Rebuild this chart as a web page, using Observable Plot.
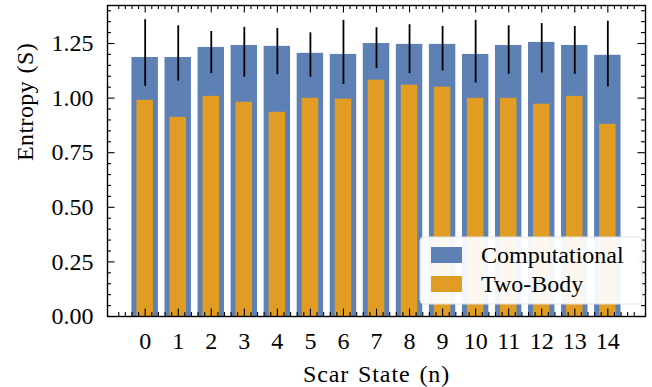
<!DOCTYPE html>
<html>
<head>
<meta charset="utf-8">
<script src="https://cdn.jsdelivr.net/npm/d3@7"></script>
<script src="https://cdn.jsdelivr.net/npm/@observablehq/plot@0.6"></script>
<style>
  html, body { margin: 0; padding: 0; background: white; }
</style>
</head>
<body>
<div id="chart"></div>
<script>
// ---- data ----
const states = [0, 1, 2, 3, 4, 5, 6, 7, 8, 9, 10, 11, 12, 13, 14];
const computational = [1.186, 1.186, 1.232, 1.241, 1.237, 1.205, 1.200, 1.250, 1.246, 1.246, 1.200, 1.241, 1.255, 1.241, 1.196];
const twoBody = [0.990, 0.912, 1.008, 0.981, 0.935, 0.999, 0.995, 1.082, 1.059, 1.050, 0.999, 0.999, 0.972, 1.008, 0.880];
const errLow = [1.054, 1.078, 1.112, 1.096, 1.107, 1.096, 1.062, 1.135, 1.112, 1.124, 1.069, 1.109, 1.115, 1.109, 1.051];
const errHigh = [1.359, 1.331, 1.305, 1.324, 1.319, 1.299, 1.356, 1.322, 1.336, 1.328, 1.356, 1.331, 1.341, 1.328, 1.352];
const seriesNames = ["Computational", "Two-Body"];
const yTickValues = [0, 0.25, 0.5, 0.75, 1.0, 1.25];
const xLabel = "Scar State (n)";
const yLabel = "Entropy (S)";

// ---- styling ----
const colors = ["#5E81B5", "#E19C24"];
const W = 652, H = 387;
const mL = 107, mR = 7, mT = 5, mB = 71;
const fw = W - mL - mR, fh = H - mT - mB;
const FONT = "Liberation Serif";
const FS = 24;
const majorLen = 7.5, minorLen = 4;

const rows = states.map((s, i) => ({
  state: s, comp: computational[i], two: twoBody[i], lo: errLow[i], hi: errHigh[i]
}));

const xDomain = [-1.14, 15.14];
const yDomain = [0, 1.424];
const xMinor = d3.range(-5, 76).map(k => k / 5).filter(v => !Number.isInteger(v) && v > xDomain[0] && v < xDomain[1]);
const yMinor = d3.range(0, 29).map(k => k / 20).filter(v => v <= yDomain[1] && !yTickValues.some(t => Math.abs(t - v) < 1e-9));

const tickStyle = {stroke: "black", strokeWidth: 1.1};

const chart = Plot.plot({
  width: W, height: H,
  marginLeft: mL, marginRight: mR, marginTop: mT, marginBottom: mB,
  style: {fontFamily: FONT, fontSize: FS + "px", background: "white", color: "black"},
  x: {domain: xDomain},
  y: {domain: yDomain},
  marks: [
    Plot.rectY(rows, {x1: d => d.state - 0.4, x2: d => d.state + 0.4, y: "comp", fill: colors[0]}),
    Plot.rectY(rows, {x1: d => d.state - 0.25, x2: d => d.state + 0.25, y: "two", fill: colors[1]}),
    Plot.ruleX(rows, {x: "state", y1: "lo", y2: "hi", stroke: "black", strokeWidth: 1.8}),
    // inward ticks, bottom & top
    Plot.tickX(states, {x: d => d, insetTop: fh - majorLen, ...tickStyle}),
    Plot.tickX(states, {x: d => d, insetBottom: fh - majorLen, ...tickStyle}),
    Plot.tickX(xMinor, {x: d => d, insetTop: fh - minorLen, ...tickStyle}),
    Plot.tickX(xMinor, {x: d => d, insetBottom: fh - minorLen, ...tickStyle}),
    // inward ticks, left & right
    Plot.tickY(yTickValues, {y: d => d, insetRight: fw - majorLen, ...tickStyle}),
    Plot.tickY(yTickValues, {y: d => d, insetLeft: fw - majorLen, ...tickStyle}),
    Plot.tickY(yMinor, {y: d => d, insetRight: fw - minorLen, ...tickStyle}),
    Plot.tickY(yMinor, {y: d => d, insetLeft: fw - minorLen, ...tickStyle}),
    Plot.frame({stroke: "black", strokeWidth: 1.4}),
    Plot.axisX(states, {anchor: "bottom", tickSize: 0, tickPadding: 15, label: null, fontSize: FS}),
    Plot.axisY(yTickValues, {anchor: "left", tickSize: 0, tickPadding: 14, label: null, fontSize: FS, tickFormat: d3.format(".2f")}),
    Plot.text([xLabel], {text: d => d, frameAnchor: "bottom", dy: 58, lineAnchor: "middle", fontSize: FS}),
    Plot.text([yLabel], {text: d => d, frameAnchor: "left", dx: -82, rotate: -90, lineAnchor: "middle", fontSize: FS})
  ]
});

// widen the axis titles slightly (Computer Modern is wider than Times)
d3.select(chart).selectAll("text")
  .filter(function () { return this.textContent === xLabel; })
  .attr("letter-spacing", "0.9px").attr("word-spacing", "2px");
d3.select(chart).selectAll("text")
  .filter(function () { return this.textContent === yLabel; })
  .attr("letter-spacing", "0.4px").attr("word-spacing", "1px");

// ---- legend inside the axes (lower right), like matplotlib ----
(function addLegend(svgNode) {
  const svg = d3.select(svgNode);
  const bw = 222, bh = 67;
  const right = W - mR - 3;
  const bottom = H - mB - 12;
  const x0 = right - bw, y0 = bottom - bh;
  const g = svg.append("g").attr("class", "legend");
  g.append("rect")
    .attr("x", x0).attr("y", y0).attr("width", bw).attr("height", bh)
    .attr("rx", 4).attr("ry", 4)
    .attr("fill", "#ffffff").attr("fill-opacity", 0.93)
    .attr("stroke", "#e2e2e2").attr("stroke-width", 1);
  seriesNames.forEach((name, i) => {
    const cy = y0 + 18 + i * 29;
    g.append("rect")
      .attr("x", x0 + 11).attr("y", cy - 8).attr("width", 31).attr("height", 16)
      .attr("fill", colors[i]);
    g.append("text")
      .attr("x", x0 + 61).attr("y", cy).attr("dy", "0.34em")
      .attr("text-anchor", "start")
      .attr("font-family", FONT).attr("font-size", FS).attr("fill", "black")
      .text(name);
  });
})(chart);

document.getElementById("chart").appendChild(chart);
</script>
</body>
</html>
